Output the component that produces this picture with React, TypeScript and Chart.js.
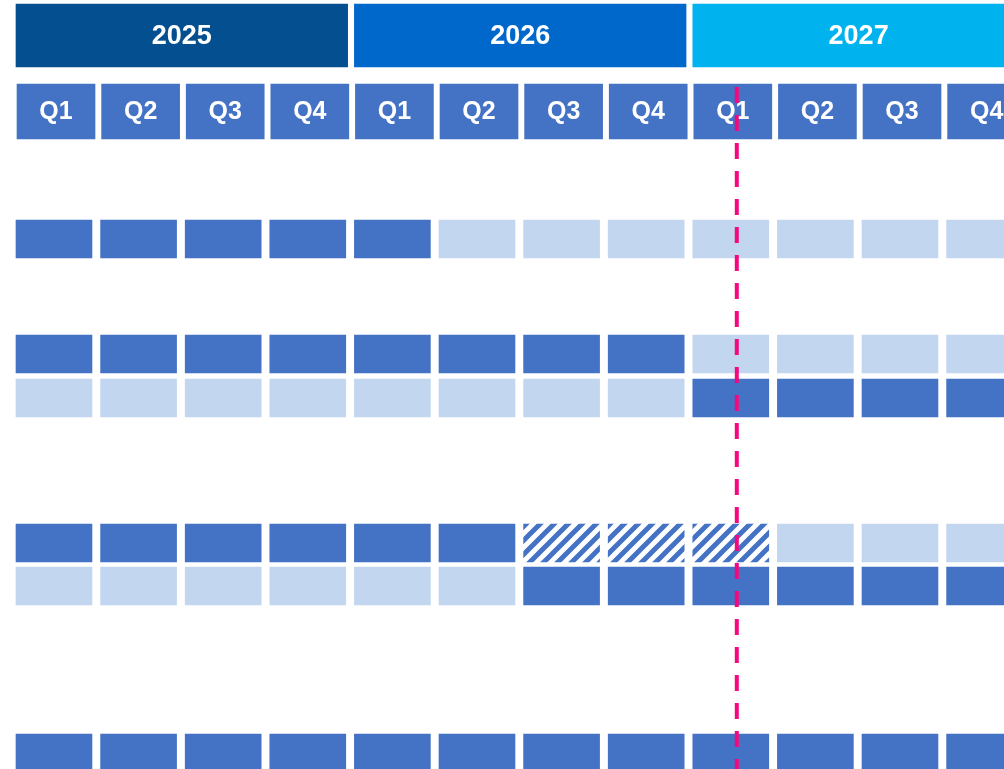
import React, { useEffect, useRef } from "react";
import { Chart, registerables } from "chart.js";

Chart.register(...registerables);

// ---------- data ----------
const YEARS = ["2025", "2026", "2027"];
const YEAR_COLORS = ["#034F8F", "#0068CB", "#00B3EF"];
const QUARTERS = ["Q1", "Q2", "Q3", "Q4", "Q1", "Q2", "Q3", "Q4", "Q1", "Q2", "Q3", "Q4"];

// status per quarter: D = done (dark), P = planned (light), H = hatched (in progress)
const ROW_1 = ["D", "D", "D", "D", "D", "P", "P", "P", "P", "P", "P", "P"];
const ROW_2A = ["D", "D", "D", "D", "D", "D", "D", "D", "P", "P", "P", "P"];
const ROW_2B = ["P", "P", "P", "P", "P", "P", "P", "P", "D", "D", "D", "D"];
const ROW_3A = ["D", "D", "D", "D", "D", "D", "H", "H", "H", "P", "P", "P"];
const ROW_3B = ["P", "P", "P", "P", "P", "P", "D", "D", "D", "D", "D", "D"];
const ROW_4 = ["D", "D", "D", "D", "D", "D", "D", "D", "D", "D", "D", "D"];
const TODAY_QUARTER = 8.52; // position of the "today" marker, in quarters from Q1 2025

// ---------- layout (lane centres on a 0..769 vertical scale) ----------
const YEAR_LANE = 35.5;
const QUARTER_LANE = 111.5;
const ROW_LANES = [239, 354, 398, 543, 586, 753];
const ROWS = [ROW_1, ROW_2A, ROW_2B, ROW_3A, ROW_3B, ROW_4];
const TODAY_TOP = 87;

const DARK = "#4472C4";
const LIGHT = "#C2D6F0";

function makeHatch(): CanvasPattern | string {
  const P = 14;
  const c = document.createElement("canvas");
  c.width = P;
  c.height = P;
  const g = c.getContext("2d");
  if (!g) return DARK;
  g.fillStyle = "#ffffff";
  g.fillRect(0, 0, P, P);
  g.strokeStyle = DARK;
  g.lineWidth = P * 0.36;
  g.beginPath();
  g.moveTo(-P, P);
  g.lineTo(P, -P);
  g.moveTo(0, P);
  g.lineTo(P, 0);
  g.moveTo(0, 2 * P);
  g.lineTo(2 * P, 0);
  g.stroke();
  const pat = g.createPattern(c, "repeat");
  return pat || DARK;
}

export default function App() {
  const ref = useRef<HTMLCanvasElement | null>(null);

  useEffect(() => {
    if (!ref.current) return;
    const hatch = makeHatch();

    const yearData = YEARS.map((_, k) => ({ x: [4 * k, 4 * k + 3.92], y: YEAR_LANE }));
    const quarterData = QUARTERS.map((_, i) => ({ x: [i + 0.012, i + 0.934], y: QUARTER_LANE }));

    const byStatus = (s: string) => {
      const pts: { x: number[]; y: number }[] = [];
      ROWS.forEach((row, r) =>
        row.forEach((v, i) => {
          if (v === s) pts.push({ x: [i, i + 0.898], y: ROW_LANES[r] });
        })
      );
      return pts;
    };

    const labelPlugin = {
      id: "labels",
      afterDatasetsDraw(chart: any) {
        const ctx = chart.ctx;
        ctx.save();
        ctx.fillStyle = "#ffffff";
        ctx.textAlign = "center";
        ctx.textBaseline = "middle";
        const m0 = chart.getDatasetMeta(0);
        ctx.font = 'bold 27px "Liberation Sans", Arial, sans-serif';
        m0.data.forEach((el: any, i: number) => {
          ctx.fillText(YEARS[i], (el.x + el.base) / 2, el.y + 1);
        });
        const m1 = chart.getDatasetMeta(1);
        ctx.font = 'bold 25px "Liberation Sans", Arial, sans-serif';
        m1.data.forEach((el: any, i: number) => {
          ctx.fillText(QUARTERS[i], (el.x + el.base) / 2, el.y + 1);
        });
        // today marker
        const xs = chart.scales.x;
        const ys = chart.scales.y;
        const px = xs.getPixelForValue(TODAY_QUARTER);
        ctx.strokeStyle = "#F5087F";
        ctx.lineWidth = 4;
        ctx.setLineDash([16, 12]);
        ctx.beginPath();
        ctx.moveTo(px, ys.getPixelForValue(TODAY_TOP));
        ctx.lineTo(px, chart.chartArea.bottom);
        ctx.stroke();
        ctx.restore();
      },
    };

    const chart = new Chart(ref.current, {
      type: "bar",
      data: {
        datasets: [
          { data: yearData as any, backgroundColor: YEAR_COLORS, barThickness: 63 },
          { data: quarterData as any, backgroundColor: DARK, barThickness: 55 },
          { data: byStatus("D") as any, backgroundColor: DARK, barThickness: 38 },
          { data: byStatus("P") as any, backgroundColor: LIGHT, barThickness: 38 },
          { data: byStatus("H") as any, backgroundColor: hatch as any, barThickness: 38 },
        ],
      },
      options: {
        indexAxis: "y",
        animation: false,
        responsive: false,
        events: [],
        grouped: false,
        borderWidth: 0,
        layout: { padding: 0 },
        plugins: { legend: { display: false }, tooltip: { enabled: false } },
        scales: {
          x: { type: "linear", min: -16 / 84.6, max: (1004 - 16) / 84.6, offset: false, display: false },
          y: { type: "linear", min: 0, max: 769, reverse: true, offset: false, display: false },
        },
      } as any,
      plugins: [labelPlugin],
    });
    return () => chart.destroy();
  }, []);

  return (
    <div style={{ position: "fixed", left: 0, top: 0, width: 1004, height: 769, background: "#fff" }}>
      <canvas ref={ref} width={1004} height={769} style={{ display: "block" }} />
    </div>
  );
}
